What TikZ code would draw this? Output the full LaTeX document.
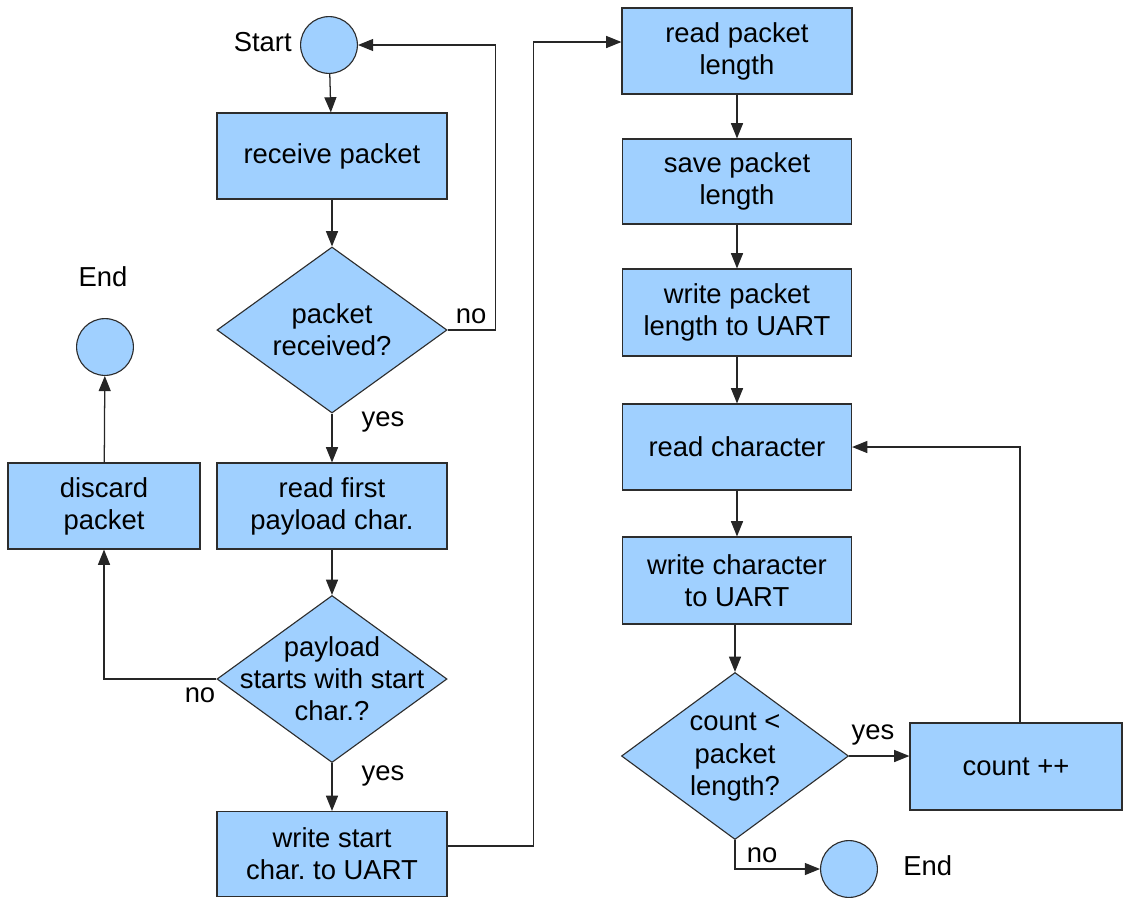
\documentclass[tikz,border=0pt]{standalone}
\usepackage{fontspec}
\setmainfont{Liberation Sans}
\usetikzlibrary{shapes.geometric,arrows.meta}
\definecolor{boxfill}{RGB}{160,208,255}
\definecolor{edgecol}{RGB}{45,45,45}
\frenchspacing
\begin{document}
\begin{tikzpicture}[x=0.025cm,y=-0.025cm,
  font=\fontsize{19.5}{22.8}\selectfont,
  proc/.style={draw=edgecol, fill=boxfill, line width=0.8pt, align=center, inner sep=0pt},
  decis/.style={diamond, draw=edgecol, fill=boxfill, line width=0.8pt, inner sep=0pt},
  term/.style={circle, draw=edgecol, fill=boxfill, line width=0.8pt, inner sep=0pt, minimum size=1.42cm},
  dtext/.style={align=center, inner sep=0pt},
  lbl/.style={inner sep=0pt},
  arr/.style={draw=black!85, line width=0.9pt, -{Triangle[length=0.38cm,width=0.3cm]}},
  conn/.style={draw=black!85, line width=0.9pt}
]
\useasboundingbox (0,0) rectangle (1132,897);

% left column
\node[term] (start) at (329,45) {};
\node[lbl, anchor=east] (startlbl) at (292,42) {Start};
\node[proc, minimum width=5.75cm, minimum height=2.15cm] (recv) at (332,156) {receive packet};
\node[decis, minimum width=5.75cm, minimum height=4.15cm] (d1) at (332,330) {};
\node[dtext] (d1t) at (332,330) {packet\\received?};
\node[proc, minimum width=5.75cm, minimum height=2.15cm] (rfp) at (332,506) {read first\\payload char.};
\node[decis, minimum width=5.75cm, minimum height=4.175cm] (d2) at (332,679) {};
\node[dtext] (d2t) at (332,679) {payload\\starts with start\\char.?};
\node[proc, minimum width=5.75cm, minimum height=2.125cm] (ws) at (332,854) {write start\\char. to UART};

\node[proc, minimum width=4.8cm, minimum height=2.15cm] (disc) at (104,506) {discard\\packet};
\node[term] (end1) at (105,347) {};
\node[lbl] (end1lbl) at (103,277) {End};

% right column
\node[proc, minimum width=5.75cm, minimum height=2.15cm] (rpl) at (737,51) {read packet\\length};
\node[proc, minimum width=5.725cm, minimum height=2.125cm] (spl) at (737,181.5) {save packet\\length};
\node[proc, minimum width=5.725cm, minimum height=2.175cm] (wpl) at (737,312.5) {write packet\\length to UART};
\node[proc, minimum width=5.725cm, minimum height=2.15cm] (rc) at (737,447) {read character};
\node[proc, minimum width=5.725cm, minimum height=2.175cm] (wc) at (737,580.5) {write character\\to UART};
\node[decis, minimum width=5.675cm, minimum height=4.175cm] (d3) at (735,756) {};
\node[dtext] (d3t) at (735,757) {count <\\packet\\length?};
\node[proc, minimum width=5.3cm, minimum height=2.175cm] (cnt) at (1016,766.5) {count ++};
\node[term] (end2) at (849,869) {};
\node[lbl, anchor=west] (end2lbl) at (903,866) {End};

% labels
\node[lbl] (no1) at (471,316) {no};
\node[lbl] (yes1) at (383,422) {yes};
\node[lbl] (no2) at (200,695) {no};
\node[lbl] (yes2) at (383,776) {yes};
\node[lbl] (yes3) at (873,735) {yes};
\node[lbl] (no3) at (762,855) {no};

% connectors
\draw[arr] (start) -- (recv);
\draw[arr] (recv) -- (d1);
\draw[arr] (d1.east) -- ++(48,0) |- (start.east);
\draw[arr] (d1) -- (rfp);
\draw[arr] (rfp) -- (d2);
\draw[arr] (d2.west) -| (disc.south);
\draw[arr] (disc) -- (end1);
\draw[arr] (d2) -- (ws);
\draw[arr] ([yshift=0.2cm]ws.east) -- ++(86,0) |- ([yshift=0.225cm]rpl.west);
\draw[arr] (rpl) -- (spl);
\draw[arr] (spl) -- (wpl);
\draw[arr] (wpl) -- (rc);
\draw[arr] (rc) -- (wc);
\draw[arr] (wc.south -| d3.north) -- (d3.north);
\draw[arr] (d3.east) -- (d3.east -| cnt.west);
\draw[arr] ([xshift=0.1cm]cnt.north) |- (rc.east);
\draw[arr] (d3.south) |- (end2.west);
\end{tikzpicture}
\end{document}
